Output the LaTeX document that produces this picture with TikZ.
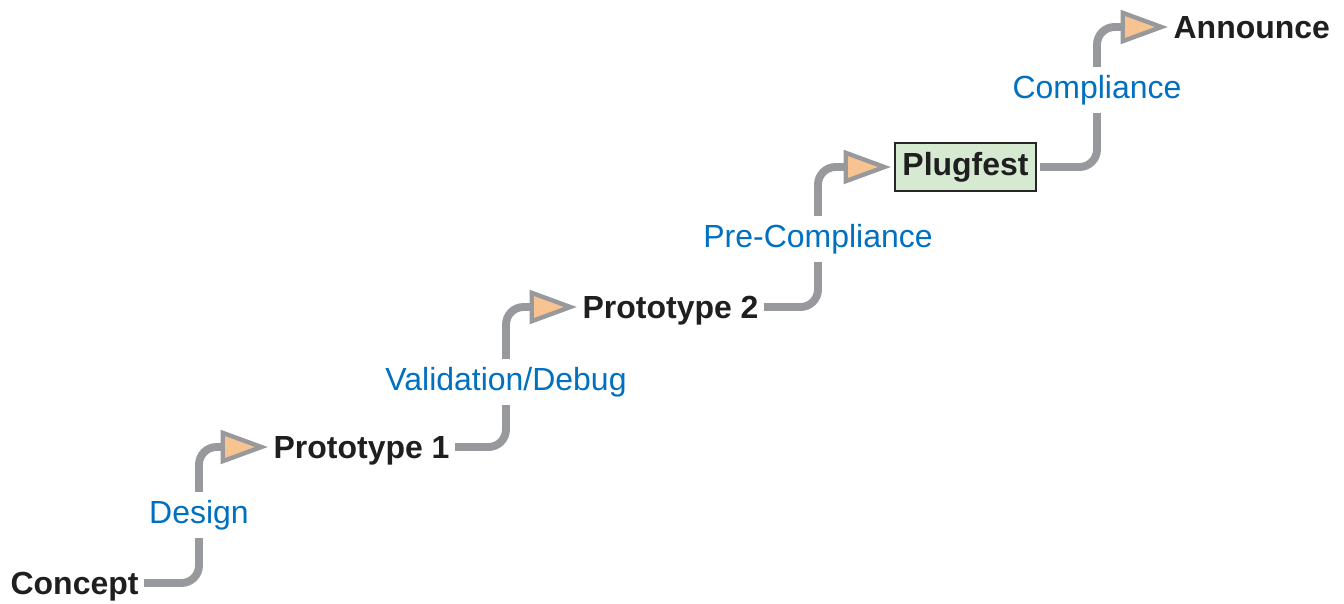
\documentclass[tikz,border=0pt]{standalone}
\usepackage{fontspec}
\setmainfont{Liberation Sans}
\usetikzlibrary{positioning, arrows.meta, backgrounds}

\definecolor{flowgray}{RGB}{152,153,157}
\definecolor{phaseblue}{RGB}{0,112,192}
\definecolor{tipfill}{RGB}{247,196,145}
\definecolor{boxgreen}{RGB}{214,234,210}

\begin{document}
\begin{tikzpicture}[x=0.02cm, y=-0.02cm,
					milestone/.style={anchor=west, inner xsep=3pt, inner ysep=2pt,
						font=\fontsize{18.2}{22}\selectfont\bfseries, text=black!88,
						text height=13.1pt, text depth=0pt},
					phase/.style={fill=white, inner xsep=2pt, inner ysep=4.4pt,
						font=\fontsize{18.2}{22}\selectfont, text=phaseblue,
						text height=13.5pt, text depth=3.8pt},
					flow/.style={draw=flowgray, line width=4.5pt, rounded corners=10pt,
						-{Triangle[length=27pt, width=19pt, fill=tipfill, line width=2.5pt]}}]
					\useasboundingbox (0,0) rectangle (1344,603);
					\node[milestone] (concept) at (5,583) {Concept};
					\node[milestone] (proto1) at (268,447) {Prototype 1};
					\node[milestone] (proto2) at (577,307) {Prototype 2};
					\node[milestone, draw=black!85, line width=1.1pt, fill=boxgreen,
						inner xsep=4pt, inner ysep=5pt, outer sep=2.5pt,
						text height=13.5pt, text depth=3.8pt] (plugfest) at (891,167) {Plugfest};
					\node[milestone] (announce) at (1168,27) {Announce};
					\node[phase] (design) at (199,515) {Design};
					\node[phase] (debug) at (506,382) {Validation/Debug};
					\node[phase] (precomp) at (818,239) {Pre-Compliance};
					\node[phase] (compliance) at (1097,90) {Compliance};
					\begin{scope}[on background layer]
						\draw[flow] (concept.east) -| (design.center) |- (proto1.west);
						\draw[flow] (proto1.east) -| (debug.center) |- (proto2.west);
						\draw[flow] (proto2.east) -| (precomp.center) |- (plugfest.west);
						\draw[flow] (plugfest.east) -| (compliance.center) |- (announce.west);
					\end{scope}
				\end{tikzpicture}
\end{document}
